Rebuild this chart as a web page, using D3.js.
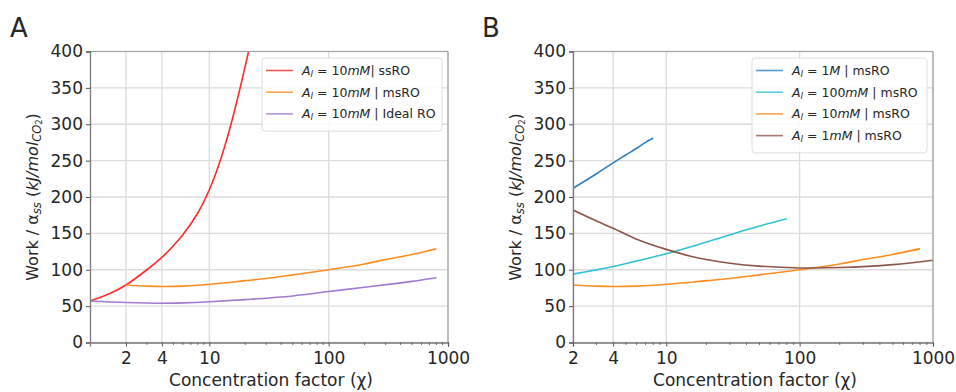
<!DOCTYPE html>
<html>
<head>
<meta charset="utf-8">
<script src="https://cdn.jsdelivr.net/npm/d3@7"></script>
<style>
  body { margin: 0; background: #fff; }
  text { font-family: "DejaVu Sans", sans-serif; fill: #262626; }
</style>
</head>
<body>
<div id="chart"></div>
<script>
// ---- data ----
// panel A
var ssX = [1, 1.5, 2, 3, 4, 5, 6, 8, 10, 12, 14, 16, 18, 20, 22];
var ssRO10 = [57, 68, 79, 100, 117, 133, 148, 178, 210, 244, 279, 314, 348, 380, 410];
var msX = [2, 3, 4, 6, 10, 20, 30, 50, 100, 200, 300, 500, 800];
var msRO10 = [79, 77.5, 77, 77.5, 80, 85, 88, 93, 100, 108, 114, 121, 129];
var idealX = [1, 2, 4, 6, 10, 20, 50, 100, 200, 500, 800];
var idealRO10 = [57, 55, 54, 54.5, 56, 59, 64, 70, 76, 84, 89];
// panel B
var x1M = [2, 3, 4, 5, 6, 7, 8];
var msRO1M = [212, 232, 247, 258, 267, 275, 281];
var x100 = [2, 4, 6, 10, 20, 40, 60, 80];
var msRO100 = [94, 104.5, 112, 122, 138, 155, 164, 170];
var x1mM = [2, 3, 4, 6, 10, 15, 20, 30, 50, 100, 200, 500, 1000];
var msRO1mM = [182, 167, 157, 142, 128, 119, 114, 109, 105, 102.5, 103, 107, 113];

var yTicks = [0, 50, 100, 150, 200, 250, 300, 350, 400];
var xTicksA = [2, 4, 10, 100, 1000];
var xTicksB = [2, 4, 10, 100, 1000];

var panels = [
  {
    letter: "A", left: 90, right: 448, xDomain: [1, 1000], xTicks: xTicksA,
    labelX: 38, letterX: 10,
    legend: { x: 262, y: 58, w: 180 },
    series: [
      { xs: ssX, ys: ssRO10, color: "#ff2a2a", conc: "10", unit: "mM", tail: "| ssRO" },
      { xs: msX, ys: msRO10, color: "#ff8c1f", conc: "10", unit: "mM", tail: " | msRO" },
      { xs: idealX, ys: idealRO10, color: "#a07ad0", conc: "10", unit: "mM", tail: " | Ideal RO" }
    ]
  },
  {
    letter: "B", left: 573, right: 933, xDomain: [2, 1000], xTicks: xTicksB,
    labelX: 521, letterX: 482,
    legend: { x: 752, y: 58, w: 175 },
    series: [
      { xs: x1M, ys: msRO1M, color: "#2f7fc0", conc: "1", unit: "M", tail: " | msRO" },
      { xs: x100, ys: msRO100, color: "#2ec4d4", conc: "100", unit: "mM", tail: " | msRO" },
      { xs: msX, ys: msRO10, color: "#ff8c1f", conc: "10", unit: "mM", tail: " | msRO" },
      { xs: x1mM, ys: msRO1mM, color: "#8c564b", conc: "1", unit: "mM", tail: " | msRO" }
    ]
  }
];

var W = 956, H = 392, plotTop = 51.5, plotBottom = 342.5;

var svg = d3.select("#chart").append("svg")
  .attr("width", W).attr("height", H);

panels.forEach(function (p, pi) {
  var x = d3.scaleLog().domain(p.xDomain).range([p.left, p.right]);
  var y = d3.scaleLinear().domain([0, 400]).range([plotBottom, plotTop]);
  var g = svg.append("g");

  var clipId = "clip" + pi;
  svg.append("defs").append("clipPath").attr("id", clipId)
    .append("rect").attr("x", p.left).attr("y", plotTop)
    .attr("width", p.right - p.left).attr("height", plotBottom - plotTop);

  // grid
  g.append("g").selectAll("line").data(yTicks).enter().append("line")
    .attr("x1", p.left).attr("x2", p.right)
    .attr("y1", d => y(d)).attr("y2", d => y(d))
    .attr("stroke", "#dcdcdc").attr("stroke-width", 1.3);
  g.append("g").selectAll("line").data(p.xTicks).enter().append("line")
    .attr("x1", d => x(d)).attr("x2", d => x(d))
    .attr("y1", plotTop).attr("y2", plotBottom)
    .attr("stroke", "#dcdcdc").attr("stroke-width", 1.3);

  // lines
  var line = d3.line().curve(d3.curveCatmullRom.alpha(0.5));
  p.series.forEach(function (s) {
    g.append("path")
      .datum(s.xs.map((v, i) => [x(v), y(s.ys[i])]))
      .attr("clip-path", "url(#" + clipId + ")")
      .attr("d", line)
      .attr("fill", "none")
      .attr("stroke", s.color)
      .attr("stroke-width", 1.6);
  });

  // spines
  g.append("line").attr("x1", p.left).attr("x2", p.right).attr("y1", plotTop).attr("y2", plotTop)
    .attr("stroke", "#a0a0a0").attr("stroke-width", 1.2);
  g.append("line").attr("x1", p.right).attr("x2", p.right).attr("y1", plotTop).attr("y2", plotBottom)
    .attr("stroke", "#a0a0a0").attr("stroke-width", 1.2);

  // y axis
  var yAxis = g.append("g").attr("transform", "translate(" + p.left + ",0)")
    .call(d3.axisLeft(y).tickValues(yTicks).tickSize(4).tickPadding(3));
  // x axis
  var minor = [];
  [1, 10, 100].forEach(function (dec) {
    for (var k = 2; k <= 9; k++) {
      var v = k * dec;
      if (v > p.xDomain[0] && v < p.xDomain[1] && p.xTicks.indexOf(v) < 0) minor.push(v);
    }
  });
  var xAxis = g.append("g").attr("transform", "translate(0," + plotBottom + ")")
    .call(d3.axisBottom(x).tickValues(p.xTicks).tickFormat(d3.format("d")).tickSize(4).tickPadding(5));
  g.append("g").selectAll("line").data(minor).enter().append("line")
    .attr("x1", d => x(d)).attr("x2", d => x(d))
    .attr("y1", plotBottom).attr("y2", plotBottom + 2.5)
    .attr("stroke", "#555").attr("stroke-width", 0.8);

  [yAxis, xAxis].forEach(function (a) {
    a.select(".domain").attr("stroke", "#7a7a7a").attr("stroke-width", 1.3);
    a.selectAll(".tick line").attr("stroke", "#555");
    a.selectAll(".tick text").style("font-size", "17px").attr("fill", "#262626");
  });

  // axis labels
  g.append("text")
    .attr("x", (p.left + p.right) / 2 + 2).attr("y", 386)
    .attr("text-anchor", "middle").style("font-size", "17px")
    .text("Concentration factor (χ)");

  var yl = g.append("text")
    .attr("transform", "translate(" + p.labelX + "," + 197 + ") rotate(-90)")
    .attr("text-anchor", "middle").style("font-size", "16px");
  yl.append("tspan").text("Work / α");
  yl.append("tspan").attr("baseline-shift", "-25%").style("font-size", "11.5px")
    .style("font-style", "italic").text("ss");
  yl.append("tspan").text(" (");
  yl.append("tspan").style("font-style", "italic").text("kJ/mol");
  yl.append("tspan").attr("baseline-shift", "-25%").style("font-size", "11.5px")
    .style("font-style", "italic").text("CO");
  yl.append("tspan").attr("baseline-shift", "-45%").style("font-size", "8px").text("2");
  yl.append("tspan").text(")");

  // panel letter
  g.append("text").attr("x", p.letterX).attr("y", 37)
    .style("font-size", "26px").text(p.letter);

  // legend
  var L = p.legend, rowH = 21.7, n = p.series.length;
  g.append("rect").attr("x", L.x).attr("y", L.y)
    .attr("width", L.w).attr("height", 12 + rowH * n - 4)
    .attr("rx", 3).attr("fill", "#fff").attr("fill-opacity", 0.85)
    .attr("stroke", "#dedede");
  p.series.forEach(function (s, i) {
    var cy = L.y + 12.5 + i * rowH;
    g.append("line").attr("x1", L.x + 4).attr("x2", L.x + 31)
      .attr("y1", cy).attr("y2", cy)
      .attr("stroke", s.color).attr("stroke-width", 1.6).attr("stroke-opacity", 0.8);
    var t = g.append("text").attr("x", L.x + 40).attr("y", cy + 4.5)
      .style("font-size", "12.5px");
    t.append("tspan").style("font-style", "italic").text("A");
    t.append("tspan").attr("baseline-shift", "-25%").style("font-size", "9px")
      .style("font-style", "italic").text("l");
    t.append("tspan").text(" = " + s.conc);
    t.append("tspan").style("font-style", "italic").text(s.unit);
    t.append("tspan").text(s.tail);
  });
});
</script>
</body>
</html>
